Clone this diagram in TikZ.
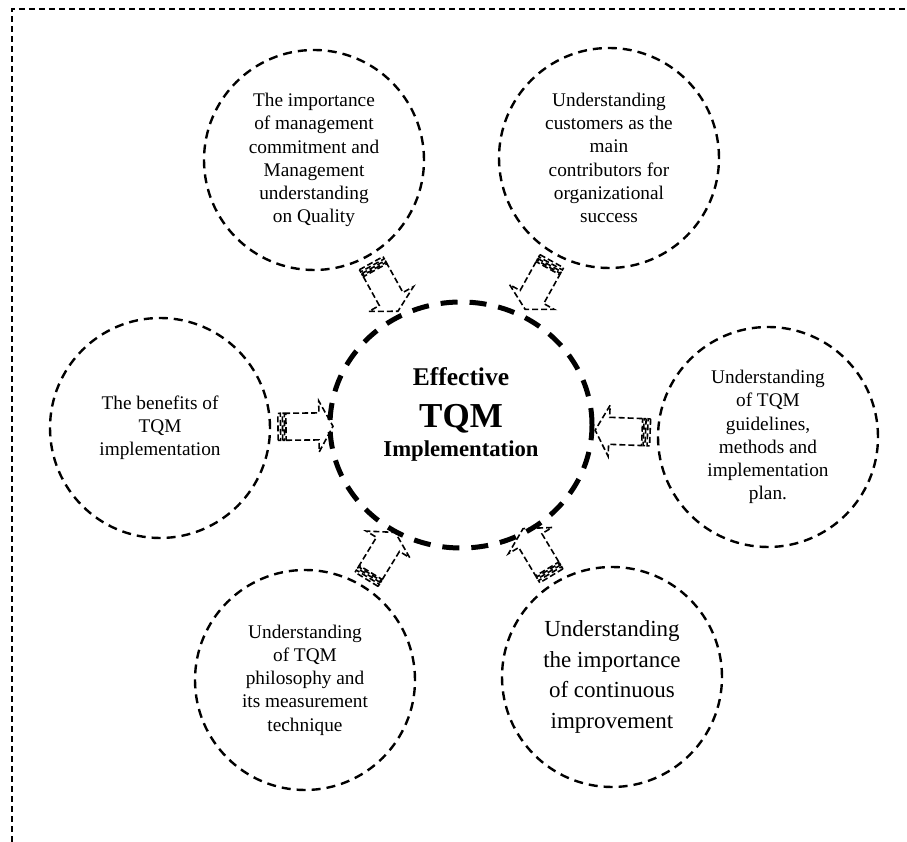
\documentclass[tikz,border=0pt]{standalone}
\usepackage{fontspec}
\setmainfont{Liberation Serif}
\usetikzlibrary{calc,shapes.geometric}
\begin{document}
\begin{tikzpicture}[x=1pt,y=1pt,
  sat/.style={circle, draw, line width=2.4pt, dash pattern=on 9pt off 6pt,
    minimum size=220pt, inner sep=0pt, align=center,
    font=\fontsize{19.3}{23.2}\selectfont},
  hub/.style={ellipse, draw, line width=5pt, dash pattern=on 17pt off 12pt,
    minimum width=262pt, minimum height=246pt, inner sep=0pt},
  hubtext/.style={anchor=base, inner sep=0pt},
  frame/.style={line width=2pt, dash pattern=on 6pt off 4pt},
  arr/.style={line width=1.6pt, dash pattern=on 6pt off 3pt, line join=miter},
  striped/.pic={
    \draw[arr] (8,-13.5) -- (41,-13.5) -- (41,-25.5) -- (55,0) -- (41,25.5)
      -- (41,13.5) -- (8,13.5) -- cycle;
    \draw[arr] (0,-13.5) rectangle (2.5,13.5);
    \draw[arr] (4.5,-13.5) rectangle (6.5,13.5);
  }
]
\useasboundingbox (0,0) rectangle (907,842);

% outer frame (top and left edges)
\draw[frame] (12,0) -- (12,833) -- (907,833);

% central hub
\node[hub] (c) at (461,417) {};
\node[hubtext, font=\bfseries\fontsize{25.5}{30}\selectfont] (e1) at (461,456) {Effective};
\node[hubtext, font=\bfseries\fontsize{35}{40}\selectfont] (e2) at (461,414) {TQM};
\node[hubtext, font=\bfseries\fontsize{22.7}{27}\selectfont] (e3) at (461,385) {Implementation};

% surrounding factors
\node[sat] (tl) at (314,682) {The importance\\of management\\commitment and\\Management\\understanding\\on Quality};
\node[sat] (tr) at (609,684) {Understanding\\customers as the\\main\\contributors for\\organizational\\success};
\node[sat] (l) at (160,414) {The benefits of\\TQM\\implementation};
\node[sat] (r) at (768,405) {Understanding\\of TQM\\guidelines,\\methods and\\implementation\\plan.};
\node[sat] (bl) at (305,162) {Understanding\\of TQM\\philosophy and\\its measurement\\technique};
\node[sat, font=\fontsize{23}{30.5}\selectfont] (br) at (612,165) {Understanding\\the importance\\of continuous\\improvement};

% striped arrows pointing into the hub
\foreach \s in {tl,tr,l,r,bl,br}{
  \path let \p1=($(c)-(\s)$), \n1={atan2(\y1,\x1)} in
    ($(\s)!118pt!(c)$) pic[rotate=\n1] {striped};
}
\end{tikzpicture}
\end{document}
